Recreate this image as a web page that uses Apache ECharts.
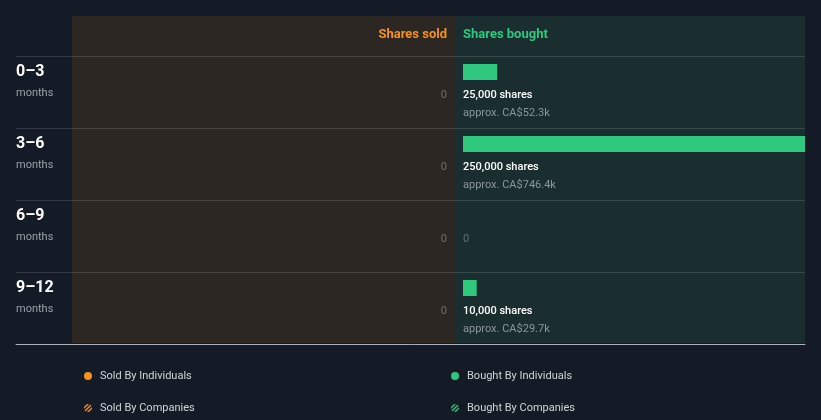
<!DOCTYPE html>
<html><head><meta charset="utf-8">
<script src="https://cdn.jsdelivr.net/npm/echarts@6/dist/echarts.min.js"></script>
<style>html,body{margin:0;padding:0;background:#151b26;}#c{width:821px;height:420px;}</style>
</head><body><div id="c"></div>
<script>
const periods = ['0–3', '3–6', '6–9', '9–12'];
const periodUnit = 'months';
const soldShares = [0, 0, 0, 0];
const boughtShares = [25000, 250000, 0, 10000];
const boughtValue = ['CA$52.3k', 'CA$746.4k', '', 'CA$29.7k'];
const headerSold = 'Shares sold';
const headerBought = 'Shares bought';
const legendNames = ['Sold By Individuals', 'Sold By Companies', 'Bought By Individuals', 'Bought By Companies'];

const ORANGE = '#f5911e', GREEN = '#2ec97e';
const FONT = 'Roboto';

function hatch(color) {
  const c = document.createElement('canvas');
  c.width = 4; c.height = 4;
  const g = c.getContext('2d');
  g.fillStyle = '#151b26'; g.fillRect(0, 0, 4, 4);
  g.strokeStyle = color; g.lineWidth = 1.4;
  g.beginPath(); g.moveTo(0, 4); g.lineTo(4, 0); g.moveTo(-1, 1); g.lineTo(1, -1); g.moveTo(3, 5); g.lineTo(5, 3); g.stroke();
  return { image: c, repeat: 'repeat' };
}

const chart = echarts.init(document.getElementById('c'), null, { renderer: 'canvas' });
const fmt = n => n.toLocaleString('en-US');

function legendAt(name, left, top) {
  return { left: left, top: top, orient: 'horizontal', itemWidth: 8, itemHeight: 8, icon: 'circle',
    data: [name], padding: 0,
    textStyle: { color: '#d0d4d9', fontSize: 11, lineHeight: 14, fontFamily: FONT, padding: [0, 0, 0, 3] } };
}

const option = {
  backgroundColor: '#151b26',
  animation: false,
  textStyle: { fontFamily: FONT },
  graphic: [
    { type: 'rect', z: -100, shape: { x: 72, y: 16, width: 383, height: 327 }, style: { fill: '#2c2722' } },
    { type: 'rect', z: -100, shape: { x: 455, y: 16, width: 350, height: 327 }, style: { fill: '#1a2d2f' } },
    { type: 'text', x: 447, y: 35, style: { text: headerSold, fill: ORANGE, font: 'bold 13px Roboto', align: 'right', verticalAlign: 'middle' } },
    { type: 'text', x: 463, y: 35, style: { text: headerBought, fill: GREEN, font: 'bold 13px Roboto', align: 'left', verticalAlign: 'middle' } }
  ],
  grid: [
    { left: 16, right: 16, top: 56, height: 288 },
    { left: 463, right: 16, top: 56, height: 288 },
    { left: 72, right: 366, top: 56, height: 288 }
  ],
  xAxis: [
    { gridIndex: 0, type: 'value', min: 0, max: 1, axisLabel: { show: false }, splitLine: { show: false }, axisTick: { show: false },
      axisLine: { show: true, onZero: false, lineStyle: { color: '#aab2bb', width: 1 } } },
    { gridIndex: 1, type: 'value', min: 0, max: 250000, show: false },
    { gridIndex: 2, type: 'value', min: 0, max: 250000, inverse: true, show: false }
  ],
  yAxis: [
    { gridIndex: 0, type: 'category', inverse: true, data: periods,
      axisLine: { show: false }, axisTick: { show: false },
      splitLine: { show: true, lineStyle: { color: 'rgba(255,255,255,0.13)', width: 1 } },
      axisLabel: { inside: true, margin: 0, align: 'left', verticalAlign: 'middle',
        formatter: v => '{a|' + v + '}\n{b|' + periodUnit + '}\n{c| }',
        rich: {
          a: { fontSize: 16, fontWeight: 'bold', color: '#ffffff', lineHeight: 20, fontFamily: FONT },
          b: { fontSize: 11, color: '#9aa0a8', lineHeight: 22, fontFamily: FONT },
          c: { fontSize: 11, lineHeight: 18 }
        } } },
    { gridIndex: 1, type: 'category', inverse: true, data: periods, show: false },
    { gridIndex: 2, type: 'category', inverse: true, data: periods, show: false }
  ],
  legend: [
    legendAt(legendNames[0], 84, 369),
    legendAt(legendNames[1], 84, 401),
    legendAt(legendNames[2], 451, 369),
    legendAt(legendNames[3], 451, 401)
  ],
  series: [
    {
      name: legendNames[0], type: 'custom', xAxisIndex: 2, yAxisIndex: 2,
      itemStyle: { color: ORANGE },
      encode: { x: 1, y: 0 },
      data: soldShares.map((v, i) => [i, v]),
      renderItem: (params, api) => {
        const idx = api.value(0), val = api.value(1);
        const p = api.coord([0, idx]);
        return { type: 'text', style: { text: fmt(val), x: p[0] - 8, y: p[1] + 3, fill: '#6f6b66', font: '11px Roboto', align: 'right', verticalAlign: 'middle' } };
      }
    },
    {
      name: legendNames[1], type: 'custom', xAxisIndex: 2, yAxisIndex: 2,
      itemStyle: { color: hatch(ORANGE) }, data: [], renderItem: () => null
    },
    {
      name: legendNames[2], type: 'custom', xAxisIndex: 1, yAxisIndex: 1,
      itemStyle: { color: GREEN },
      encode: { x: 1, y: 0 },
      data: boughtShares.map((v, i) => [i, v]),
      renderItem: (params, api) => {
        const idx = api.value(0), val = api.value(1);
        const p0 = api.coord([0, idx]);
        const p1 = api.coord([val, idx]);
        const cy = p0[1];
        if (val === 0) {
          return { type: 'text', style: { text: '0', x: p0[0], y: cy + 3, fill: '#5f7474', font: '11px Roboto', align: 'left', verticalAlign: 'middle' } };
        }
        return { type: 'group', children: [
          { type: 'rect', shape: { x: p0[0], y: cy - 28, width: p1[0] - p0[0], height: 16 }, style: { fill: GREEN } },
          { type: 'text', style: { text: fmt(val) + ' shares', x: p0[0], y: cy + 3, fill: '#ffffff', font: '500 11px Roboto', align: 'left', verticalAlign: 'middle' } },
          { type: 'text', style: { text: 'approx. ' + boughtValue[idx], x: p0[0], y: cy + 21, fill: '#8a9898', font: '11px Roboto', align: 'left', verticalAlign: 'middle' } }
        ] };
      }
    },
    {
      name: legendNames[3], type: 'custom', xAxisIndex: 1, yAxisIndex: 1,
      itemStyle: { color: hatch(GREEN) }, data: [], renderItem: () => null
    }
  ]
};
chart.setOption(option);
</script>
</body></html>
